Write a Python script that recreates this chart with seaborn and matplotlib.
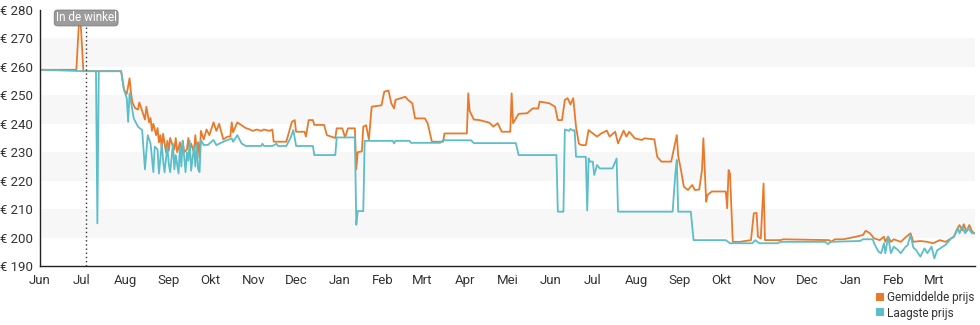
import matplotlib
matplotlib.use("Agg")
import matplotlib.pyplot as plt
import matplotlib.dates as mdates
from matplotlib.lines import Line2D
import pandas as pd
import seaborn as sns

# Average price across shops (Gemiddelde prijs)
avg_dates = [
    "2022-06-01", "2022-06-27", "2022-06-29", "2022-06-30",
    "2022-07-02", "2022-07-29", "2022-07-31",
    "2022-08-02", "2022-08-04", "2022-08-05", "2022-08-06", "2022-08-08", "2022-08-10", "2022-08-11",
    "2022-08-13", "2022-08-15", "2022-08-16", "2022-08-18", "2022-08-19", "2022-08-20", "2022-08-21",
    "2022-08-23", "2022-08-24", "2022-08-25", "2022-08-26", "2022-08-27", "2022-08-28", "2022-08-30",
    "2022-08-31",
    "2022-09-01", "2022-09-02", "2022-09-04", "2022-09-05", "2022-09-06", "2022-09-07", "2022-09-09",
    "2022-09-10", "2022-09-11", "2022-09-12", "2022-09-14", "2022-09-15", "2022-09-16", "2022-09-17",
    "2022-09-19", "2022-09-20", "2022-09-21", "2022-09-22", "2022-09-23", "2022-09-24", "2022-09-26",
    "2022-09-28", "2022-09-30",
    "2022-10-03", "2022-10-05", "2022-10-07", "2022-10-10", "2022-10-13", "2022-10-15", "2022-10-16",
    "2022-10-17", "2022-10-20", "2022-10-23", "2022-10-26", "2022-10-29", "2022-10-31",
    "2022-11-03", "2022-11-06", "2022-11-08", "2022-11-12", "2022-11-14", "2022-11-15", "2022-11-24",
    "2022-11-27", "2022-11-28", "2022-11-30",
    "2022-12-01", "2022-12-07", "2022-12-08", "2022-12-10", "2022-12-13", "2022-12-14", "2022-12-21",
    "2022-12-23", "2022-12-29", "2022-12-30",
    "2023-01-03", "2023-01-05", "2023-01-07", "2023-01-12", "2023-01-13", "2023-01-14", "2023-01-17",
    "2023-01-18", "2023-01-20", "2023-01-22", "2023-01-24", "2023-01-31",
    "2023-02-02", "2023-02-05", "2023-02-07", "2023-02-09", "2023-02-10", "2023-02-17", "2023-02-19",
    "2023-02-22", "2023-02-24",
    "2023-03-03", "2023-03-05", "2023-03-08", "2023-03-16", "2023-03-17",
    "2023-04-02", "2023-04-03", "2023-04-04", "2023-04-07", "2023-04-11", "2023-04-18", "2023-04-21",
    "2023-04-24", "2023-04-27",
    "2023-05-03", "2023-05-04", "2023-05-05", "2023-05-09", "2023-05-15", "2023-05-19", "2023-05-23",
    "2023-05-24", "2023-05-31",
    "2023-06-04", "2023-06-06", "2023-06-09", "2023-06-11", "2023-06-13", "2023-06-15", "2023-06-17",
    "2023-06-19", "2023-06-21", "2023-06-23", "2023-06-26", "2023-06-28",
    "2023-07-01", "2023-07-04", "2023-07-07", "2023-07-11", "2023-07-13", "2023-07-17", "2023-07-19",
    "2023-07-23", "2023-07-25", "2023-07-27", "2023-07-31",
    "2023-08-05", "2023-08-07", "2023-08-14", "2023-08-16", "2023-08-19", "2023-08-26", "2023-08-27",
    "2023-08-30", "2023-08-31",
    "2023-09-02", "2023-09-04", "2023-09-07", "2023-09-10", "2023-09-12", "2023-09-15", "2023-09-17",
    "2023-09-18", "2023-09-20", "2023-09-21", "2023-09-24",
    "2023-10-04", "2023-10-05", "2023-10-06", "2023-10-07", "2023-10-09", "2023-10-14", "2023-10-22",
    "2023-10-24", "2023-10-26", "2023-10-27", "2023-10-29", "2023-10-31",
    "2023-11-01", "2023-11-12", "2023-11-14",
    "2023-12-17", "2023-12-18", "2023-12-21", "2023-12-27",
    "2024-01-05", "2024-01-10", "2024-01-12", "2024-01-15", "2024-01-18", "2024-01-22", "2024-01-25",
    "2024-01-26", "2024-01-28", "2024-01-30",
    "2024-02-01", "2024-02-06", "2024-02-10", "2024-02-13", "2024-02-15", "2024-02-20", "2024-02-25",
    "2024-02-29",
    "2024-03-05", "2024-03-09", "2024-03-13", "2024-03-15", "2024-03-17", "2024-03-19", "2024-03-21",
    "2024-03-22", "2024-03-24", "2024-03-26", "2024-03-28", "2024-03-30",
]
avg_prices = [
    259, 259, 277, 276,
    258.5, 258.5, 252,
    250.5, 256, 251, 247.5, 245.5, 245, 247.5,
    244.5, 241.5, 246, 240.5, 242, 237.5, 240,
    236, 238.5, 233.5, 236, 231.5, 236.5, 230,
    234,
    230.5, 235, 232, 231, 235, 230, 233.5,
    229.5, 234, 230, 231, 235, 231, 233,
    230, 236, 231, 233.5, 228, 237.5, 234.5,
    238, 236,
    240.5, 237.5, 240, 234.5, 235.5, 235.5, 240.5,
    237, 240.5, 239.5, 238.5, 238, 237.5,
    238, 237.5, 238, 237.5, 238, 233.7, 233.7,
    239, 240.7, 241.3,
    237.2, 237.2, 235.5, 241.3, 241.3, 239.6, 239.6,
    236, 235, 238.4,
    238.4, 235.2, 238.4, 238.4, 224, 230, 230.3,
    239, 239.5, 234.5, 246, 246.5,
    251.3, 251.7, 247.2, 245.4, 248.4, 249.5, 248.4,
    247.2, 241.9,
    241.9, 240.2, 233.7, 233.7, 236.6,
    236.6, 250.7, 244.5, 241.5, 241.3, 240.4, 239,
    240.2, 237.2,
    237.2, 250.7, 240.2, 243.5, 243.7, 245.4, 245.4,
    247.8, 247.2,
    246, 241.3, 241.3, 248.4, 249, 246.8, 249,
    239, 233, 232.5, 232.5, 237.8,
    236.6, 235.5, 236.6, 237.6, 235.5, 237.2, 233.1,
    237.6, 235.5, 237.2, 234.9,
    234.3, 234.9, 234.5, 228.4, 226.7, 226.7, 229,
    236, 228.7,
    223.7, 217.9, 216.7, 218.5, 216.7, 216.9, 223.7,
    234.9, 212.6, 215, 216.2,
    216.2, 210.3, 223.7, 222.5, 198.5, 198.5, 199.1,
    208.5, 208.7, 200.3, 199.7, 219,
    199.1, 199.1, 199.4,
    199.1, 198.5, 199.4, 199.4,
    200.3, 200.9, 202.4, 201.5, 199.7, 199.1, 200.3,
    198.5, 200.3, 198.5,
    199.4, 198.5, 200.3, 201.5, 198.5, 198.8, 198.5,
    198,
    199.1, 198.5, 199.7, 200.3, 202.7, 204.4, 202.5,
    204.7, 202.1, 204.4, 202.1, 201.5,
]

# Lowest price across shops (Laagste prijs)
low_dates = [
    "2022-06-01", "2022-07-02", "2022-07-11", "2022-07-12", "2022-07-13", "2022-07-29", "2022-07-31",
    "2022-08-02", "2022-08-03", "2022-08-04", "2022-08-07", "2022-08-10", "2022-08-13", "2022-08-15",
    "2022-08-17", "2022-08-19", "2022-08-21", "2022-08-22", "2022-08-24", "2022-08-25", "2022-08-27",
    "2022-08-28", "2022-08-29", "2022-08-31",
    "2022-09-01", "2022-09-02", "2022-09-04", "2022-09-05", "2022-09-06", "2022-09-08", "2022-09-09",
    "2022-09-10", "2022-09-11", "2022-09-13", "2022-09-14", "2022-09-15", "2022-09-16", "2022-09-17",
    "2022-09-19", "2022-09-20", "2022-09-21", "2022-09-22", "2022-09-23", "2022-09-24", "2022-09-26",
    "2022-09-29",
    "2022-10-03", "2022-10-05", "2022-10-10", "2022-10-16", "2022-10-17", "2022-10-20", "2022-10-23",
    "2022-10-26",
    "2022-11-06", "2022-11-07", "2022-11-08", "2022-11-14", "2022-11-17", "2022-11-18", "2022-11-24",
    "2022-11-27", "2022-11-29",
    "2022-12-01", "2022-12-13", "2022-12-14", "2022-12-29", "2022-12-30",
    "2023-01-12", "2023-01-13", "2023-01-14", "2023-01-18", "2023-01-19",
    "2023-02-08", "2023-02-09", "2023-02-10", "2023-02-20", "2023-02-21",
    "2023-03-14", "2023-03-16",
    "2023-04-05", "2023-04-07",
    "2023-05-07", "2023-05-09",
    "2023-06-05", "2023-06-06", "2023-06-10", "2023-06-11", "2023-06-14", "2023-06-15", "2023-06-17",
    "2023-06-18", "2023-06-19", "2023-06-26", "2023-06-27", "2023-06-28", "2023-06-29",
    "2023-07-01", "2023-07-02", "2023-07-04", "2023-07-06", "2023-07-15", "2023-07-18", "2023-07-19",
    "2023-08-27", "2023-08-29", "2023-08-30", "2023-08-31",
    "2023-09-09", "2023-09-11",
    "2023-10-04", "2023-10-07", "2023-10-23", "2023-10-25", "2023-10-28",
    "2023-11-10", "2023-11-12",
    "2023-12-14", "2023-12-16", "2023-12-18",
    "2024-01-08", "2024-01-10", "2024-01-17", "2024-01-18", "2024-01-21", "2024-01-23", "2024-01-25",
    "2024-01-26", "2024-01-28", "2024-01-30",
    "2024-02-01", "2024-02-04", "2024-02-06", "2024-02-09", "2024-02-11", "2024-02-13", "2024-02-15",
    "2024-02-17", "2024-02-20", "2024-02-23", "2024-02-25", "2024-02-28",
    "2024-03-01", "2024-03-03", "2024-03-07", "2024-03-09", "2024-03-13", "2024-03-15", "2024-03-18",
    "2024-03-19", "2024-03-21", "2024-03-23", "2024-03-25", "2024-03-28", "2024-03-30",
]
low_prices = [
    259, 258.5, 258.5, 205, 258.5, 258.5, 252,
    249, 240.7, 250.7, 241.9, 239, 237.8, 224,
    236, 233, 223, 232, 231, 222.5, 233,
    227, 223, 232,
    226, 223, 233, 224, 229, 222.5, 232,
    225, 234, 223, 230, 227, 234, 223.5,
    232, 225, 233, 224, 223, 234.3, 232.5,
    232.6,
    234.3, 232.5, 233.7, 234.9, 233.7, 236, 233.1,
    232.2,
    232.2, 233, 232.2, 232.2, 233, 232.2, 232.2,
    235, 237.8,
    232.2, 232.2, 229, 229, 235.2,
    235.2, 204.5, 209.3, 209.3, 234,
    234, 233.1, 234, 234, 233.3,
    233.3, 234.2,
    234.2, 233.2,
    233.2, 229,
    229, 209.1, 209.1, 238, 237.5, 238.2, 237.6,
    237.8, 228.4, 228.4, 209.5, 227.8, 226.7,
    226.7, 222, 225.5, 224.3, 224.3, 227.8, 209.1,
    209.1, 222.6, 227.3, 209.1,
    209.1, 199.1,
    199.1, 198, 198, 199.1, 198,
    198, 198.5,
    198.5, 197.7, 198.5,
    198.8, 199.4, 199.4, 198, 195.1, 194.5, 198,
    194.5, 200.3, 194.5,
    196.8, 195.6, 194.5, 196.5, 197.4, 200.9, 196.5,
    195.6, 193.3, 196.2, 194.5, 196.8,
    192.7, 195.5, 196.8, 197.4, 199.7, 200.3, 203.3,
    201.5, 203.8, 201.5, 203.3, 201.5, 201.5,
]

series_names = ["Gemiddelde prijs", "Laagste prijs"]
series_colors = ["#ea7a2b", "#5cbec8"]

month_labels = ["Jun", "Jul", "Aug", "Sep", "Okt", "Nov", "Dec", "Jan", "Feb", "Mrt", "Apr", "Mei",
                "Jun", "Jul", "Aug", "Sep", "Okt", "Nov", "Dec", "Jan", "Feb", "Mrt"]
price_ticks = [190, 200, 210, 220, 230, 240, 250, 260, 270, 280]
price_labels = ["€ 190", "€ 200", "€ 210", "€ 220", "€ 230", "€ 240", "€ 250", "€ 260", "€ 270", "€ 280"]
shaded_bands = [(200, 210), (220, 230), (240, 250), (260, 270)]
in_store_date = "2022-07-04"
in_store_label = "In de winkel"

sns.set_theme(style="white")
plt.rcParams["font.family"] = ["Roboto", "DejaVu Sans"]

avg = pd.DataFrame({"datum": pd.to_datetime(avg_dates), "prijs": avg_prices, "reeks": series_names[0]})
low = pd.DataFrame({"datum": pd.to_datetime(low_dates), "prijs": low_prices, "reeks": series_names[1]})
prices = pd.concat([avg, low], ignore_index=True)

fig = plt.figure(figsize=(9.8, 3.25), dpi=100)
ax = fig.add_axes([0.0408, 0.1815, 0.954, 0.7877])

for lo, hi in shaded_bands:
    ax.axhspan(lo, hi, color="#f7f7f7", lw=0, zorder=0)

sns.lineplot(data=prices, x="datum", y="prijs", hue="reeks", hue_order=series_names,
             palette=series_colors, estimator=None, sort=False, linewidth=1.3,
             legend=False, ax=ax)

start = pd.Timestamp("2022-06-01")
ax.set_xlim(start, pd.Timestamp(avg_dates[-1]))
ax.set_ylim(price_ticks[0], price_ticks[-1])

month_ticks = pd.date_range(start, periods=len(month_labels), freq="MS")
ax.set_xticks(month_ticks)
ax.set_xticklabels(month_labels)
ax.xaxis.set_minor_locator(mdates.DayLocator())
ax.set_yticks(price_ticks)
ax.set_yticklabels(price_labels)
ax.set_xlabel("")
ax.set_ylabel("")

for side in ("top", "right"):
    ax.spines[side].set_visible(False)
for side in ("left", "bottom"):
    ax.spines[side].set_color("#222222")
    ax.spines[side].set_linewidth(1.0)

ax.tick_params(axis="x", which="major", direction="inout", length=6, width=0.8,
               color="#333333", labelcolor="#333333", labelsize=9.5, pad=2.5)
ax.tick_params(axis="x", which="minor", direction="out", length=2, width=0.4, color="#888888")
ax.tick_params(axis="y", which="major", direction="out", length=4, width=0.8,
               color="#333333", labelcolor="#333333", labelsize=9.5, pad=1)

ax.axvline(pd.Timestamp(in_store_date), color="#333333", lw=1.0, ls=(0, (1, 2)), zorder=3)
ax.text(pd.Timestamp(in_store_date), 277.2, in_store_label, ha="center", va="center",
        color="white", fontsize=8.5, zorder=5,
        bbox=dict(boxstyle="round,pad=0.12,rounding_size=0.3", fc="#9c9c9c", ec="#7a7a7a", lw=0.6))

handles = [Line2D([], [], marker="s", linestyle="none", markersize=6, color=c,
                  markeredgewidth=0) for c in series_colors]
fig.legend(handles, series_names, loc="upper right", bbox_to_anchor=(0.994, 0.104),
           frameon=False, fontsize=8.5, handlelength=0.6, handletextpad=0.3,
           labelspacing=0.2, borderaxespad=0, borderpad=0, labelcolor="#333333")

fig.savefig("out.png", dpi=100)
